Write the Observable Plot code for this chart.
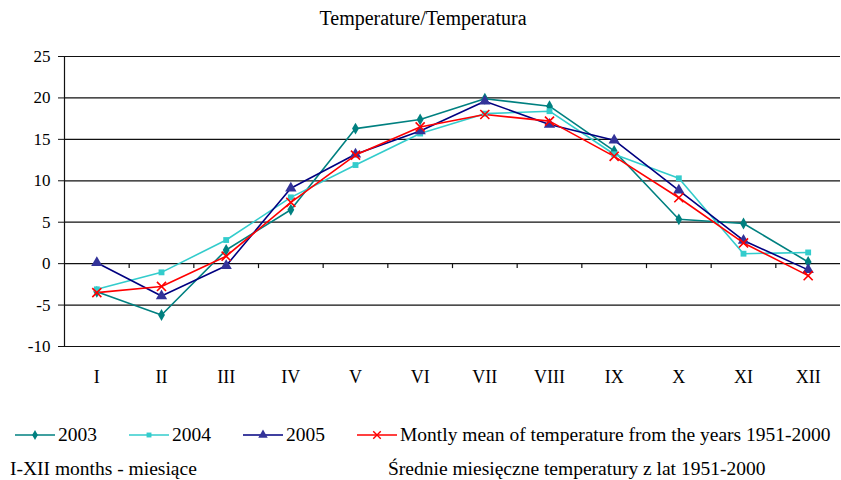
<!DOCTYPE html>
<html>
<head>
<meta charset="utf-8">
<script src="https://cdn.jsdelivr.net/npm/d3@7"></script>
<script src="https://cdn.jsdelivr.net/npm/@observablehq/plot@0.6"></script>
<style>
  body { margin: 0; background: #fff; font-family: "Liberation Serif", serif; color: #000; }
  #wrap { position: relative; width: 841px; height: 480px; overflow: hidden; }
  #title { position: absolute; left: 0; top: 6px; width: 846px; text-align: center; font-size: 20px; line-height: 24px; font-family: "Liberation Serif", serif; }
  #chart { position: absolute; left: 0; top: 40px; }
  #chart svg text { font-family: "Liberation Serif", serif !important; }
  .leg { position: absolute; top: 424px; font-size: 19.5px; line-height: 22px; display: flex; align-items: center; white-space: nowrap; font-family: "Liberation Serif", serif; }
  .leg svg { margin-right: 3px; }
  .cap { position: absolute; top: 458px; font-size: 19.5px; line-height: 22px; white-space: nowrap; font-family: "Liberation Serif", serif; }
</style>
</head>
<body>
<div id="wrap">
  <div id="title">Temperature/Temperatura</div>
  <div id="chart"></div>
  <div id="legend"></div>
  <div class="cap" style="left:10px">I-XII months - miesiące</div>
  <div class="cap" style="left:388px">Średnie miesięczne temperatury z lat 1951-2000</div>
</div>
<script>
const months = ["I","II","III","IV","V","VI","VII","VIII","IX","X","XI","XII"];
const yTicks = [-10, -5, 0, 5, 10, 15, 20, 25];
const t2003 = [-3.4, -6.2, 1.65, 6.5, 16.3, 17.4, 19.9, 19.0, 13.6, 5.35, 4.85, 0.2];
const t2004 = [-3.1, -1.05, 2.85, 8.0, 11.9, 15.7, 18.1, 18.4, 13.2, 10.3, 1.2, 1.35];
const t2005 = [0.1, -3.9, -0.25, 9.1, 13.2, 16.0, 19.6, 16.8, 14.9, 8.85, 2.8, -0.75];
const tMean = [-3.5, -2.75, 0.9, 7.4, 13.1, 16.5, 18.0, 17.2, 12.95, 7.95, 2.5, -1.45];
const seriesNames = ["2003", "2004", "2005", "Montly mean of temperature from the years 1951-2000"];

const styles = [
  {line: "#008080", fill: "#008080", stroke: "none", symbol: "diamond", r: 3.6},
  {line: "#33CCCC", fill: "#33CCCC", stroke: "none", symbol: "square", r: 3.3},
  {line: "#000080", fill: "#333399", stroke: "none", symbol: "triangle", r: 4.2},
  {line: "#FF0000", fill: "none", stroke: "#FF0000", symbol: "times", r: 4.2}
];
const allSeries = [t2003, t2004, t2005, tMean];
const monthIdx = d3.range(months.length);
const bounds = d3.range(months.length - 1).map(i => i + 0.5);

const lineMarks = [];
const dotMarks = [];
allSeries.forEach((vals, s) => {
  const st = styles[s];
  const rows = vals.map((v, i) => ({i, v}));
  lineMarks.push(Plot.line(rows, {x: "i", y: "v", stroke: st.line, strokeWidth: 1.6}));
  dotMarks.push(Plot.dot(rows, {x: "i", y: "v", symbol: () => st.symbol, r: st.r,
    fill: st.fill, stroke: st.stroke, strokeWidth: 1.6}));
});

const chart = Plot.plot({
  width: 841,
  height: 360,
  marginLeft: 64,
  marginRight: 1,
  marginTop: 16,
  marginBottom: 54,
  style: {fontFamily: "'Liberation Serif', serif", color: "#000", background: "#fff", overflow: "visible"},
  x: {domain: [-0.5, 11.5], axis: null},
  y: {domain: [-10, 25], axis: null},
  symbol: {type: "identity"},
  marks: [
    Plot.ruleY(yTicks, {stroke: "#111", strokeWidth: 1.2}),
    Plot.ruleX([-0.5], {stroke: "#111", strokeWidth: 1.2}),
    Plot.ruleX(bounds, {x: d => d, y1: 0, y2: -0.6, stroke: "#111", strokeWidth: 1.2}),
    Plot.axisY(yTicks, {label: null, tickSize: 6, tickPadding: 8, fontSize: 17, fontFamily: "Liberation Serif", tickFormat: d => String(d), stroke: "#111"}),
    Plot.axisX(monthIdx, {label: null, tickSize: 0, tickPadding: 24, fontSize: 18, fontFamily: "Liberation Serif", tickFormat: i => months[i]}),
    ...lineMarks,
    ...dotMarks
  ]
});
document.getElementById("chart").appendChild(chart);

// legend
const legendLeft = [15, 129, 243, 357];
const legend = document.getElementById("legend");
const symMap = {diamond: d3.symbolDiamond, square: d3.symbolSquare, triangle: d3.symbolTriangle, times: d3.symbolTimes};
seriesNames.forEach((name, s) => {
  const st = styles[s];
  const item = document.createElement("div");
  item.className = "leg";
  item.style.left = legendLeft[s] + "px";
  const svg = d3.create("svg").attr("width", 40).attr("height", 14);
  svg.append("line").attr("x1", 0).attr("x2", 40).attr("y1", 7).attr("y2", 7)
    .attr("stroke", st.line).attr("stroke-width", 1.6);
  svg.append("path").attr("transform", "translate(20,7)")
    .attr("d", d3.symbol(symMap[st.symbol], Math.PI * st.r * st.r * 0.7)())
    .attr("fill", st.fill).attr("stroke", st.stroke).attr("stroke-width", 1.4);
  item.appendChild(svg.node());
  const span = document.createElement("span");
  span.textContent = name;
  item.appendChild(span);
  legend.appendChild(item);
});
</script>
</body>
</html>
